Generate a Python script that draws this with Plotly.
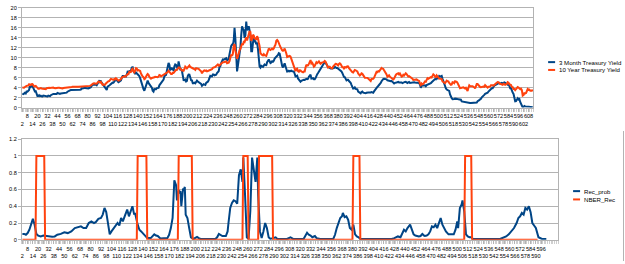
import plotly.graph_objects as go

# ---------------- data ----------------
# category index 2..613 = monthly rows (Jan 1959 .. Dec 2009)
t3m = [
 2.82,2.70,2.80,2.95,2.84,3.21,3.20,3.38,3.53,4.30,4.14,4.49,
 4.35,3.96,3.31,3.23,3.29,2.46,2.30,2.30,2.48,2.30,2.37,2.25,
 2.24,2.42,2.39,2.29,2.29,2.33,2.24,2.39,2.28,2.30,2.48,2.60,
 2.72,2.73,2.72,2.73,2.69,2.73,2.92,2.82,2.78,2.74,2.83,2.87,
 2.91,2.92,2.89,2.90,2.93,2.99,3.18,3.32,3.38,3.45,3.52,3.52,
 3.52,3.53,3.54,3.47,3.48,3.48,3.46,3.50,3.53,3.58,3.62,3.86,
 3.83,3.93,3.94,3.93,3.90,3.80,3.84,3.84,3.92,4.03,4.09,4.38,
 4.59,4.65,4.59,4.62,4.64,4.50,4.80,4.96,5.37,5.35,5.32,4.96,
 4.72,4.56,4.26,3.84,3.60,3.54,4.21,4.27,4.42,4.56,4.73,4.97,
 5.00,4.98,5.17,5.38,5.66,5.52,5.31,5.09,5.19,5.35,5.45,5.96,
 6.34,6.32,6.22,6.31,6.24,6.64,7.20,7.18,7.29,7.20,7.44,8.02,
 8.07,7.33,6.83,6.71,7.04,6.88,6.65,6.61,6.32,5.91,5.28,4.87,
 4.44,3.70,3.38,3.86,4.14,4.75,5.40,4.94,4.69,4.46,4.22,4.01,
 3.38,3.20,3.73,3.71,3.69,3.91,3.98,3.95,4.46,4.74,4.78,5.07,
 5.41,5.60,6.29,6.46,6.56,7.39,8.31,8.97,8.59,7.42,8.03,7.65,
 7.97,7.32,8.26,8.63,8.53,8.10,7.75,9.26,8.36,7.66,7.67,7.35,
 6.46,5.50,5.49,5.61,5.23,5.34,6.33,6.64,6.62,5.96,5.48,5.44,
 4.87,4.88,5.00,4.86,5.20,5.41,5.23,5.14,5.08,4.92,4.75,4.35,
 4.62,4.67,4.60,4.54,4.96,5.02,5.19,5.49,5.81,6.36,6.30,6.27,
 6.64,6.65,6.49,6.49,6.61,6.93,7.21,7.28,8.15,8.29,8.94,9.38,
 9.65,9.62,9.78,9.76,9.91,9.36,9.54,9.82,10.71,12.15,12.39,12.64,
 12.60,13.46,16.00,13.80,8.88,7.27,8.36,9.43,10.72,12.07,14.53,16.29,
 15.82,15.59,13.96,14.49,17.25,15.53,15.75,16.31,15.50,14.34,11.31,11.30,
 12.88,14.28,13.28,13.30,12.69,13.07,11.80,8.98,8.22,8.01,8.37,8.24,
 8.16,8.41,8.65,8.51,8.49,9.09,9.38,9.64,9.30,8.94,9.06,9.30,
 9.20,9.39,9.82,9.99,10.28,10.32,10.57,10.92,10.82,10.04,8.91,8.36,
 8.06,8.52,8.87,8.30,7.76,7.21,7.25,7.38,7.28,7.37,7.40,7.27,
 7.24,7.23,6.79,6.26,6.32,6.41,5.84,5.57,5.19,5.18,5.35,5.49,
 5.45,5.59,5.56,5.76,5.75,5.69,5.78,6.20,6.52,6.60,5.81,5.80,
 5.90,5.69,5.69,5.92,6.47,6.70,6.93,7.22,7.43,7.54,7.88,8.39,
 8.59,8.78,9.13,9.00,8.70,8.52,8.12,8.11,7.92,7.83,7.85,7.84,
 7.84,7.94,8.20,7.97,7.94,7.93,7.82,7.65,7.56,7.37,7.26,6.94,
 6.42,6.14,6.11,5.65,5.46,5.57,5.58,5.33,5.22,4.99,4.56,4.07,
 3.80,3.84,4.04,3.75,3.63,3.66,3.21,3.13,2.91,2.86,3.13,3.22,
 3.00,2.93,2.95,2.87,2.96,3.07,3.04,3.02,2.95,3.02,3.10,3.06,
 2.98,3.25,3.50,3.68,4.14,4.14,4.33,4.48,4.62,4.95,5.29,5.60,
 5.71,5.77,5.73,5.65,5.67,5.47,5.42,5.40,5.28,5.28,5.36,5.14,
 5.00,4.83,4.96,4.95,5.02,5.09,5.15,5.05,5.09,4.99,5.03,4.91,
 5.03,5.01,5.14,5.16,5.05,4.93,5.05,5.14,4.95,4.97,5.14,5.16,
 5.04,5.09,5.03,4.95,5.00,4.98,4.96,4.90,4.61,3.96,4.41,4.39,
 4.34,4.45,4.48,4.28,4.51,4.59,4.60,4.76,4.73,4.88,5.07,5.23,
 5.34,5.57,5.72,5.67,6.12,5.74,6.23,6.33,6.21,6.31,6.37,5.77,
 5.15,4.88,4.42,3.87,3.62,3.49,3.51,3.36,2.64,2.16,1.87,1.69,
 1.65,1.73,1.79,1.72,1.73,1.70,1.68,1.62,1.63,1.58,1.23,1.19,
 1.17,1.17,1.13,1.13,1.07,0.92,0.90,0.95,0.94,0.92,0.93,0.90,
 0.88,0.93,0.94,0.94,1.02,1.27,1.33,1.48,1.65,1.76,2.07,2.19,
 2.33,2.54,2.74,2.78,2.84,2.97,3.22,3.44,3.42,3.71,3.88,3.89,
 4.24,4.43,4.51,4.60,4.72,4.79,4.95,4.96,4.81,4.92,4.94,4.85,
 4.98,5.03,4.94,4.87,4.73,4.61,4.82,4.20,3.89,3.90,3.27,3.00,
 2.75,2.12,1.26,1.29,1.73,1.86,1.63,1.72,1.13,0.67,0.19,0.03,
 0.13,0.30,0.22,0.16,0.18,0.18,0.18,0.17,0.12,0.07,0.05,0.05,
]

t10y = [
 4.02,3.96,3.99,4.12,4.31,4.34,4.40,4.43,4.68,4.53,4.53,4.69,
 4.72,4.49,4.25,4.28,4.35,4.15,3.90,3.80,3.80,3.89,3.93,3.84,
 3.84,3.78,3.74,3.78,3.71,3.88,3.92,4.04,3.98,3.92,3.94,4.06,
 4.08,4.04,3.93,3.84,3.87,3.91,4.01,3.98,3.98,3.93,3.92,3.86,
 3.83,3.92,3.93,3.97,3.93,3.99,4.02,4.00,4.08,4.11,4.12,4.13,
 4.17,4.15,4.22,4.23,4.20,4.17,4.19,4.19,4.20,4.19,4.15,4.18,
 4.19,4.21,4.21,4.20,4.21,4.21,4.20,4.25,4.29,4.35,4.45,4.62,
 4.61,4.83,4.87,4.75,4.78,4.81,5.02,5.22,5.18,5.01,5.16,4.84,
 4.58,4.63,4.54,4.59,4.85,5.02,5.16,5.28,5.30,5.48,5.75,5.70,
 5.53,5.56,5.74,5.64,5.87,5.72,5.50,5.42,5.46,5.58,5.70,6.03,
 6.04,6.19,6.30,6.17,6.32,6.57,6.72,6.69,7.16,7.10,7.14,7.65,
 7.79,7.24,7.07,7.39,7.91,7.84,7.46,7.53,7.39,7.33,6.84,6.39,
 6.24,6.11,5.70,5.83,6.39,6.52,6.73,6.58,6.14,5.93,5.81,5.93,
 5.95,6.08,6.07,6.19,6.13,6.11,6.11,6.21,6.55,6.48,6.28,6.36,
 6.46,6.64,6.71,6.67,6.85,6.90,7.13,7.40,7.09,6.79,6.73,6.74,
 6.99,6.96,7.21,7.51,7.58,7.54,7.81,8.04,8.04,7.90,7.68,7.43,
 7.50,7.39,7.73,8.23,8.06,7.86,8.06,8.40,8.43,8.14,8.05,8.00,
 7.74,7.79,7.73,7.56,7.90,7.86,7.83,7.77,7.59,7.41,7.29,6.87,
 7.21,7.39,7.46,7.37,7.46,7.28,7.33,7.40,7.34,7.52,7.58,7.69,
 7.96,8.03,8.04,8.15,8.35,8.46,8.64,8.41,8.42,8.64,8.81,9.01,
 9.10,9.10,9.12,9.18,9.25,8.91,8.95,9.03,9.33,10.30,10.65,10.39,
 10.80,12.41,12.75,11.47,10.18,9.78,10.25,11.10,11.51,11.75,12.68,12.84,
 12.57,13.19,13.12,13.68,14.10,13.47,14.28,14.94,15.32,15.15,13.39,13.72,
 14.59,14.43,13.86,13.87,13.62,14.30,13.95,13.06,12.34,10.91,10.55,10.54,
 10.46,10.72,10.51,10.40,10.38,10.85,11.38,11.85,11.65,11.54,11.69,11.83,
 11.67,11.84,12.32,12.63,13.41,13.56,13.36,12.72,12.52,12.16,11.57,11.50,
 11.38,11.51,11.86,11.43,10.85,10.16,10.31,10.33,10.37,10.24,9.78,9.26,
 9.19,8.70,7.78,7.30,7.71,7.80,7.30,7.17,7.45,7.43,7.25,7.11,
 7.08,7.25,7.25,8.02,8.61,8.40,8.45,8.76,9.42,9.52,8.86,8.99,
 8.67,8.21,8.37,8.72,9.09,8.92,9.06,9.26,8.98,8.80,8.96,9.11,
 9.09,9.17,9.36,9.18,8.86,8.28,8.02,8.11,8.19,8.01,7.87,7.84,
 8.21,8.47,8.59,8.79,8.76,8.48,8.47,8.75,8.89,8.72,8.39,8.08,
 8.09,7.85,8.11,8.04,8.07,8.28,8.27,7.90,7.65,7.53,7.42,7.09,
 7.03,7.34,7.54,7.48,7.39,7.26,6.84,6.59,6.42,6.59,6.87,6.77,
 6.60,6.26,5.98,5.97,6.04,5.96,5.81,5.68,5.36,5.33,5.72,5.77,
 5.75,5.97,6.48,6.97,7.18,7.10,7.30,7.24,7.46,7.74,7.96,7.81,
 7.78,7.47,7.20,7.06,6.63,6.17,6.28,6.49,6.20,6.04,5.93,5.71,
 5.65,5.81,6.27,6.51,6.74,6.91,6.87,6.64,6.83,6.53,6.20,6.30,
 6.58,6.42,6.69,6.89,6.71,6.49,6.22,6.30,6.21,6.03,5.88,5.81,
 5.54,5.57,5.65,5.64,5.65,5.50,5.46,5.34,4.81,4.53,4.83,4.65,
 4.72,5.00,5.23,5.18,5.54,5.90,5.79,5.94,5.92,6.11,6.03,6.28,
 6.66,6.52,6.26,5.99,6.44,6.10,6.05,5.83,5.80,5.74,5.72,5.24,
 5.16,5.10,4.89,5.14,5.39,5.28,5.24,4.97,4.73,4.57,4.65,5.09,
 5.04,4.91,5.28,5.21,5.16,4.93,4.65,4.26,3.87,3.94,4.05,4.03,
 4.05,3.90,3.81,3.96,3.57,3.33,3.98,4.45,4.27,4.29,4.30,4.27,
 4.15,4.08,3.83,4.35,4.72,4.73,4.50,4.28,4.13,4.10,4.19,4.23,
 4.22,4.17,4.50,4.34,4.14,4.00,4.18,4.26,4.20,4.46,4.54,4.47,
 4.42,4.57,4.72,4.99,5.11,5.11,5.09,4.88,4.72,4.73,4.60,4.56,
 4.76,4.72,4.56,4.69,4.75,5.10,5.00,4.67,4.52,4.53,4.15,4.10,
 3.74,3.74,3.51,3.68,3.88,4.10,4.01,3.89,3.69,3.81,3.53,2.42,
 2.52,2.87,2.82,2.93,3.29,3.72,3.56,3.59,3.40,3.39,3.40,3.59,
]
cats_top = list(range(2, 2 + len(t3m)))

# recession probability (category, value)
rec_cat = [2,4,6,8,10,12,14,16,18,20,23,26,29,32,36,39,42,46,50,54,58,62,66,69,72,75,78,81,84,86,89,92,94,96,98,100,
           102,104,107,111,113,115,117,119,122,124,126,128,130,131,134,136,138,141,143,145,149,151,153,155,157,160,164,168,
           170,172,174,175,176,177,178,179,180,181,182,183,184,185,186,187,188,189,190,191,193,195,198,200,202,204,206,
           223,225,227,229,231,235,237,238,240,242,244,246,248,250,252,254,255,257,259,261,263,265,267,269,271,272,274,
           276,278,280,282,284,286,292,294,305,309,312,324,326,328,330,332,334,337,339,343,358,360,362,364,366,368,369,
           371,373,375,377,379,381,383,385,387,389,410,420,425,428,432,435,437,439,441,443,446,448,450,452,454,456,458,
           460,462,463,465,467,469,471,473,475,477,479,481,483,485,487,490,494,496,498,500,501,503,505,506,508,510,512,
           514,516,518,549,553,556,559,562,565,568,570,572,574,576,578,580,582,584,586,588,590,593,595,597,602]
rec_prob = [0.07,0.07,0.06,0.08,0.12,0.18,0.25,0.18,0.07,0.05,0.04,0.05,0.045,0.035,0.035,0.04,0.06,0.07,0.09,0.08,0.10,
            0.14,0.15,0.16,0.14,0.14,0.20,0.22,0.20,0.21,0.25,0.26,0.30,0.38,0.33,0.22,
            0.065,0.10,0.14,0.20,0.17,0.26,0.22,0.27,0.36,0.28,0.33,0.40,0.30,0.32,0.18,0.12,0.10,0.07,0.04,0.02,0.02,0.04,
            0.065,0.05,0.045,0.015,0.015,0.02,
            0.06,0.14,0.26,0.50,0.71,0.68,0.65,0.47,0.55,0.59,0.57,0.58,0.40,0.50,0.61,0.60,0.63,0.30,0.28,0.26,0.14,0.03,
            0.01,0.02,0.035,0.02,0.01,
            0.01,0.03,0.07,0.06,0.045,0.045,0.10,0.20,0.38,0.44,0.47,0.46,0.43,0.77,0.84,0.69,0.98,0.53,0.03,0.01,0.34,
            0.98,0.84,0.69,0.98,0.53,0.10,
            0.02,0.10,0.20,0.14,0.03,0.01,0.03,0.01,0.01,0.03,0.01,0.01,0.04,0.085,0.06,0.05,0.03,0.045,0.02,0.01,0.01,
            0.06,0.14,0.20,0.26,0.28,0.32,
            0.27,0.28,0.24,0.14,0.12,0.18,0.065,0.04,0.03,0.01,0.01,0.01,0.01,0.02,0.04,0.03,0.08,0.12,0.10,0.14,0.18,
            0.12,0.065,0.05,0.045,0.04,0.045,
            0.07,0.05,0.045,0.05,0.065,0.10,0.16,0.15,0.18,0.14,0.20,0.26,0.18,0.14,0.10,0.065,0.06,0.065,0.12,0.22,0.14,
            0.38,0.42,0.47,0.34,0.065,0.04,
            0.03,0.03,0.01,0.01,0.03,0.04,0.065,0.10,0.14,0.20,0.26,0.28,0.32,0.30,0.38,0.36,0.40,0.33,0.20,0.17,0.14,
            0.03,0.02,0.01,0.01]

# NBER recession months (first and last category of each recession); series ends at category 592
nber_start = [18, 134, 181, 255, 273, 381, 509]
nber_end = [27, 144, 196, 260, 288, 388, 516]
nber_last_cat = 592
nber_cat = list(range(2, nber_last_cat + 1))
nber_rec = [1 if any(s <= c <= e for s, e in zip(nber_start, nber_end)) else 0 for c in nber_cat]

top_ticks = list(range(2, 609, 6))
bot_ticks = list(range(2, 597, 6))

top_names = ["3 Month Treasury Yield", "10 Year Treasury Yield"]
bot_names = ["Rec_prob", "NBER_Rec"]

# ---------------- figure ----------------
W, H = 625, 264
BLUE, RED = "#004586", "#ff420e"
GRID = "#b3b3b3"
FONT = "Liberation Sans, Arial, sans-serif"
FS = 5.6
LFS = 6.1


def px(x):
    return x / W


def py(y):
    return 1 - y / H


def ticktext(vals):
    return [str(v) if (v - 2) % 12 else "<br>" + str(v) for v in vals]


fig = go.Figure()
fig.add_trace(go.Scatter(x=cats_top, y=t3m, mode="lines", name=top_names[0],
                         line=dict(color=BLUE, width=2), xaxis="x", yaxis="y"))
fig.add_trace(go.Scatter(x=cats_top, y=t10y, mode="lines", name=top_names[1],
                         line=dict(color=RED, width=2), xaxis="x", yaxis="y"))
fig.add_trace(go.Scatter(x=rec_cat, y=rec_prob, mode="lines", name=bot_names[0],
                         line=dict(color=BLUE, width=2), xaxis="x2", yaxis="y2"))
fig.add_trace(go.Scatter(x=nber_cat, y=nber_rec, mode="lines", name=bot_names[1],
                         line=dict(color=RED, width=2), xaxis="x2", yaxis="y2"))

xcommon = dict(showgrid=False, showline=True, linecolor=GRID, linewidth=1, mirror=True,
               ticks="outside", ticklen=3, tickcolor=GRID, tickwidth=1, tickangle=0,
               tickfont=dict(size=FS, color="#000", family=FONT), zeroline=False,
               tickmode="array",
               minor=dict(tickmode="linear", tick0=1.5, dtick=2, ticks="outside", ticklen=3,
                          tickcolor="#cfcfcf", tickwidth=1, showgrid=False))
ycommon = dict(showgrid=True, gridcolor=GRID, gridwidth=1, showline=True, linecolor=GRID,
               linewidth=1, mirror=True, ticks="outside", ticklen=3, tickcolor=GRID,
               tickfont=dict(size=FS, color="#000", family=FONT), zeroline=False)

fig.update_layout(
    width=W, height=H, margin=dict(l=0, r=0, t=0, b=0),
    paper_bgcolor="white", plot_bgcolor="white", showlegend=False,
    xaxis=dict(domain=[px(21), px(533)], range=[1.5, 613.5], anchor="y",
               tickvals=top_ticks, ticktext=ticktext(top_ticks), **xcommon),
    yaxis=dict(domain=[py(107), py(5)], range=[0, 20], dtick=2, anchor="x", **ycommon),
    xaxis2=dict(domain=[px(21), px(558)], range=[1.5, 615.5], anchor="y2",
                tickvals=bot_ticks, ticktext=ticktext(bot_ticks), **xcommon),
    yaxis2=dict(domain=[py(242.3), py(139.3)], range=[0, 1.2], dtick=0.2, anchor="x2", **ycommon),
)

# manual legends
legend_items = [
    (top_names[0], BLUE, 548, 555, 557, 60.5),
    (top_names[1], RED, 548, 555, 557, 68.5),
    (bot_names[0], BLUE, 573, 580, 582, 192.5),
    (bot_names[1], RED, 573, 580, 582, 201),
]
for name, col, x0, x1, xt, yy in legend_items:
    fig.add_shape(type="line", xref="paper", yref="paper", x0=px(x0), x1=px(x1),
                  y0=py(yy), y1=py(yy), line=dict(color=col, width=2))
    fig.add_annotation(text=name, xref="paper", yref="paper", x=px(xt), y=py(yy),
                       xanchor="left", yanchor="middle", showarrow=False,
                       font=dict(size=LFS, color="#000", family=FONT))

# thin border line at the far right of the lower region
fig.add_shape(type="line", xref="paper", yref="paper", x0=px(623.5), x1=px(623.5),
              y0=0, y1=py(131), line=dict(color=GRID, width=1))

fig.write_html("out.html")
